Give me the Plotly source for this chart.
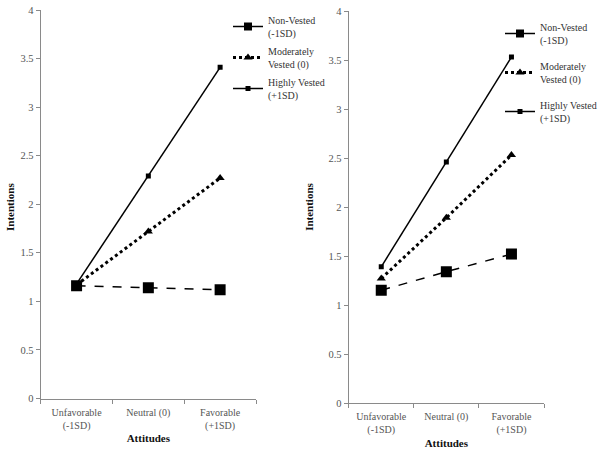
import plotly.graph_objects as go

categories = ["Unfavorable<br>(-1SD)", "Neutral (0)", "Favorable<br>(+1SD)"]
series_names = ["Non-Vested<br>(-1SD)", "Moderately<br>Vested (0)", "Highly Vested<br>(+1SD)"]

left_non = [1.16, 1.14, 1.12]
left_mod = [1.17, 1.72, 2.27]
left_high = [1.18, 2.29, 3.41]

right_non = [1.15, 1.34, 1.52]
right_mod = [1.27, 1.89, 2.53]
right_high = [1.39, 2.46, 3.53]

y_ticks = [0, 0.5, 1, 1.5, 2, 2.5, 3, 3.5, 4]

FONT = "Liberation Serif"
W, H = 604, 454

def px_x(x):
    return x / W

def px_y(y):
    return 1 - y / H

styles = [
    dict(line=dict(color="black", width=1.5, dash="dash"), marker=dict(symbol="square", size=11, color="black")),
    dict(line=dict(color="black", width=3, dash="dot"), marker=dict(symbol="triangle-up", size=8, color="black")),
    dict(line=dict(color="black", width=1.5), marker=dict(symbol="square", size=5, color="black")),
]
legend_styles = [
    dict(line=dict(color="black", width=1.5), marker=dict(symbol="square", size=8, color="black")),
    dict(line=dict(color="black", width=3, dash="dot"), marker=dict(symbol="triangle-up", size=8, color="black")),
    dict(line=dict(color="black", width=1.5), marker=dict(symbol="square", size=5, color="black")),
]

fig = go.Figure()
panels = [
    ("x", "y", "legend", [left_non, left_mod, left_high]),
    ("x2", "y2", "legend2", [right_non, right_mod, right_high]),
]
for xa, ya, lg, data in panels:
    for i, vals in enumerate(data):
        fig.add_trace(go.Scatter(
            x=categories, y=vals, mode="lines+markers", xaxis=xa, yaxis=ya,
            showlegend=False, **styles[i]))
    for i, name in enumerate(series_names):
        fig.add_trace(go.Scatter(
            x=[None], y=[None], mode="lines+markers", xaxis=xa, yaxis=ya,
            name=name, legend=lg, legendgroup=f"{lg}{i}", showlegend=True, **legend_styles[i]))

axis_common = dict(
    showline=True, linecolor="#8a8a8a", linewidth=1.2, ticks="outside", ticklen=4,
    tickcolor="#8a8a8a", showgrid=False, zeroline=False, ticklabeloverflow="allow",
)
ytick_font = dict(family=FONT, size=10.5, color="#555")
xtick_font = dict(family=FONT, size=10, color="#555")
title_font = dict(family=FONT, size=11, color="#111")

fig.update_layout(
    width=W, height=H, autosize=False,
    margin=dict(l=0, r=0, t=0, b=0, autoexpand=False),
    paper_bgcolor="white", plot_bgcolor="white",
    font=dict(family=FONT, color="#222"),
    xaxis=dict(domain=[px_x(40.7), px_x(256)], anchor="y", type="category", tickson="boundaries",
               range=[-0.5, 2.5], ticklabelstandoff=4, tickfont=xtick_font,
               title=dict(text="<b>Attitudes</b>", font=title_font, standoff=3),
               **axis_common),
    yaxis=dict(domain=[px_y(398.5), px_y(10)], anchor="x", range=[0, 4],
               tickvals=y_ticks, ticktext=[f"{v:g}" for v in y_ticks], tickfont=ytick_font,
               **axis_common),
    xaxis2=dict(domain=[px_x(348.7), px_x(544)], anchor="y2", type="category", tickson="boundaries",
                range=[-0.5, 2.5], ticklabelstandoff=4, tickfont=xtick_font,
                title=dict(text="<b>Attitudes</b>", font=title_font, standoff=4),
                **axis_common),
    yaxis2=dict(domain=[px_y(403), px_y(11)], anchor="x2", range=[0, 4],
                tickvals=y_ticks, ticktext=[f"{v:g}" for v in y_ticks], tickfont=ytick_font,
                title=dict(text="<b>Intentions</b>", font=title_font, standoff=12),
                **axis_common),
    legend=dict(x=228 / W, y=1 - 7 / H, xanchor="left", yanchor="top",
                bgcolor="rgba(0,0,0,0)", font=dict(family=FONT, size=10, color="#333"),
                tracegroupgap=2, traceorder="grouped", itemwidth=30),
    legend2=dict(x=500 / W, y=1 - 14 / H, xanchor="left", yanchor="top",
                 bgcolor="rgba(0,0,0,0)", font=dict(family=FONT, size=10, color="#333"),
                 tracegroupgap=10, traceorder="grouped", itemwidth=30),
    annotations=[dict(text="<b>Intentions</b>", font=title_font, textangle=-90,
                      x=px_x(10), y=px_y(207), xref="paper", yref="paper",
                      xanchor="center", yanchor="middle", showarrow=False)],
)

# the page body has a default 8px margin; remove it so the figure fills the window
fig.write_html("out.html", config={"displayModeBar": False},
               post_script="document.body.style.margin='0';")
